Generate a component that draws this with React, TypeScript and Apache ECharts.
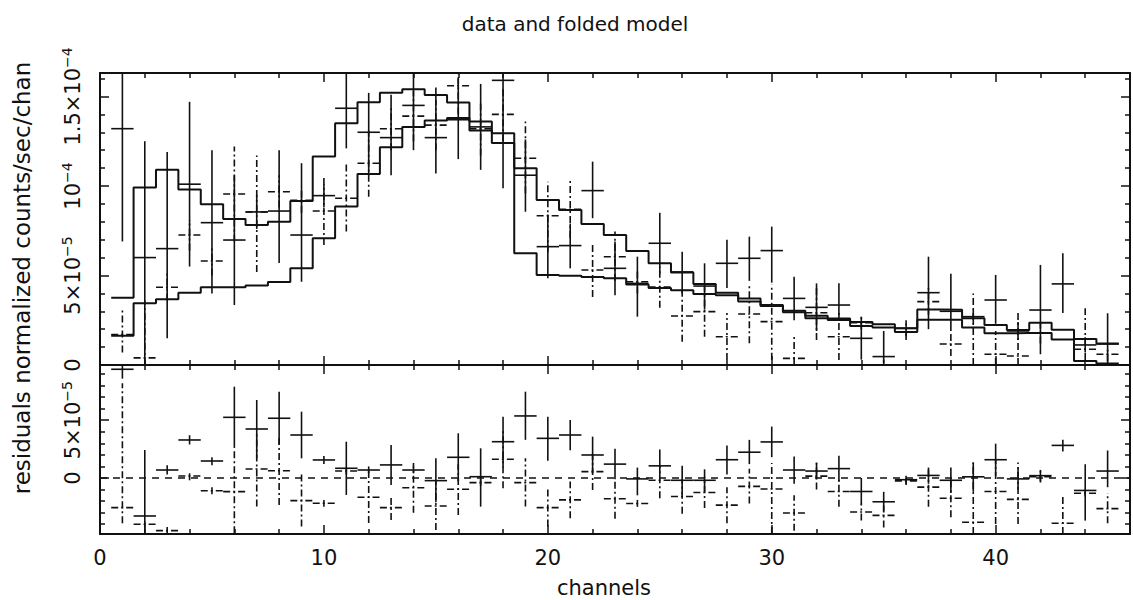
import React, { useEffect, useRef } from "react";
import * as echarts from "echarts";

// values are in units of 1e-5 normalized counts/sec/chan
const UNIT = 1e-5;

const channels = [
  1, 2, 3, 4, 5, 6, 7, 8, 9, 10, 11, 12, 13, 14, 15, 16, 17, 18, 19, 20, 21, 22, 23,
  24, 25, 26, 27, 28, 29, 30, 31, 32, 33, 34, 35, 36, 37, 38, 39, 40, 41, 42, 43, 44, 45,
];

// folded model, first spectrum (broad peak)
const modelUpper = [
  3.76, 9.92, 10.9, 9.8, 8.98, 8.16, 7.82, 8.0, 9.16, 11.64, 13.5, 14.68, 15.21, 15.4, 15.08,
  14.66, 13.6, 12.94, 10.99, 9.22, 8.66, 7.88, 7.26, 6.37, 5.68, 5.16, 4.53, 4.04, 3.72, 3.3,
  3.03, 2.61, 2.51, 2.4, 2.27, 2.05, 3.1, 3.08, 2.61, 2.23, 1.96, 2.36, 1.97, 1.45, 1.2,
];

// folded model, second spectrum (sharp cut at channel 19)
const modelLower = [
  1.64, 3.45, 3.67, 4.04, 4.34, 4.34, 4.44, 4.64, 5.4, 7.08, 8.85, 10.67, 12.16, 13.3, 13.65,
  13.8, 13.1, 12.4, 6.24, 5.03, 4.98, 4.92, 4.85, 4.5, 4.3, 4.17, 3.97, 3.9, 3.55, 3.35,
  2.95, 2.75, 2.6, 2.18, 2.1, 1.84, 2.53, 2.53, 2.1, 1.77, 1.79, 1.79, 1.43, 0.22, 0.08,
];

// data [value, low, high]
const dataUpper: number[][] = [
  [13.2, 6.9, 19.5], [6.0, 0.0, 12.5], [6.5, 1.5, 11.9], [10.1, 5.5, 14.7], [7.95, 4.0, 12.0],
  [6.98, 3.35, 10.6], [8.55, 7.6, 9.5], [8.6, 5.7, 12.0], [7.26, 4.65, 11.27], [9.46, 8.8, 10.1],
  [14.34, 12.1, 16.5], [13.0, 10.6, 15.2], [12.7, 10.6, 15.1], [14.5, 12.0, 16.9], [12.7, 10.7, 15.5],
  [13.7, 11.5, 16.0], [13.3, 10.9, 15.7], [15.9, 9.87, 21.9], [10.6, 8.56, 12.6], [6.61, 4.84, 8.4],
  [6.67, 5.4, 7.9], [9.74, 8.2, 11.36], [5.4, 3.9, 6.9], [4.56, 2.7, 6.05], [6.8, 5.1, 8.5],
  [5.2, 4.0, 6.33], [4.41, 3.1, 5.68], [5.68, 4.3, 7.0], [5.96, 4.7, 7.17], [6.39, 4.6, 7.73],
  [3.72, 2.5, 4.93], [3.22, 1.9, 4.56], [3.35, 2.5, 4.56], [1.49, 0.3, 2.7], [0.47, 0.1, 1.9],
  [2.05, 1.6, 2.5], [4.04, 2.0, 6.05], [3.0, 1.9, 5.1], [2.7, 2.3, 3.1], [3.63, 2.3, 5.03],
  [1.9, 1.4, 2.4], [3.07, 0.6, 5.59], [4.53, 2.9, 6.24], [1.12, 0.7, 1.55], [1.17, 0.1, 2.89],
];

const dataLower: number[][] = [
  [1.7, 0.7, 3.2], [0.4, 0.0, 3.6], [4.34, 3.6, 5.1], [7.26, 6.4, 8.1], [5.81, 5.0, 6.6],
  [9.55, 6.9, 12.2], [8.55, 5.2, 11.7], [9.68, 8.8, 10.6], [9.2, 8.5, 9.9], [8.6, 6.7, 10.5],
  [9.31, 7.45, 11.27], [11.27, 9.4, 13.1], [13.2, 12.0, 14.4], [13.9, 12.5, 15.3], [13.4, 12.0, 14.8],
  [15.6, 14.0, 17.2], [13.2, 11.7, 14.7], [14.0, 12.5, 15.5], [11.55, 9.6, 13.6], [8.34, 6.3, 10.24],
  [8.69, 7.1, 10.3], [5.31, 3.8, 6.8], [6.05, 4.7, 7.45], [4.65, 4.0, 5.3], [4.36, 3.2, 5.5],
  [2.74, 1.3, 4.2], [2.98, 1.58, 4.4], [1.58, 0.28, 2.9], [2.85, 1.21, 4.5], [2.42, 0.3, 4.5],
  [0.37, 0.05, 1.7], [2.92, 1.4, 4.4], [1.58, 0.28, 2.9], [2.36, 2.0, 2.8], [-1.1, -2.5, 0.3],
  [1.84, 1.4, 2.3], [3.54, 2.8, 4.3], [1.17, 0.5, 1.8], [-1.5, -6.7, 4.0], [0.6, -0.8, 1.9],
  [0.5, -1.0, 3.07], [1.8, 1.2, 2.4], [-2.5, -5.0, 0.0], [0.88, 0.28, 3.17], [0.6, 0.2, 1.0],
];

// residuals [value, low, high]
const residUpper: number[][] = [
  [9.41, 8.6, 10.2], [-3.29, -4.76, 2.42], [0.69, 0.3, 1.1], [3.29, 2.9, 3.7], [1.47, 1.1, 1.8],
  [5.25, 2.6, 7.9], [4.24, 1.7, 6.75], [5.17, 2.9, 7.47], [3.72, 1.7, 5.74], [1.56, 1.2, 1.9],
  [0.84, -1.47, 3.14], [0.69, 0.4, 1.0], [1.13, -0.6, 2.86], [0.69, 0.4, 1.0], [-0.23, -2.1, 1.7],
  [1.79, -0.3, 3.87], [0.11, -2.48, 2.57], [3.14, 0.9, 5.31], [5.37, 3.3, 7.47], [3.43, 1.5, 5.31],
  [3.72, 2.4, 5.02], [1.99, 0.4, 3.58], [1.2, -0.1, 2.53], [-0.08, -1.5, 0.9], [1.05, 0.1, 2.47],
  [-0.2, -1.4, 1.05], [-0.2, -1.2, 0.75], [1.58, 0.3, 2.82], [2.23, 1.2, 3.3], [3.12, 1.8, 4.45],
  [0.69, -0.5, 1.85], [0.6, -0.1, 1.34], [0.81, -0.3, 1.93], [-1.17, -2.3, 0.0], [-2.06, -2.9, -1.2],
  [-0.15, -0.5, 0.2], [0.22, -0.5, 0.9], [-0.2, -1.3, 0.9], [0.1, -1.2, 1.34], [1.58, 0.2, 2.97],
  [-0.08, -1.0, 0.9], [0.2, -0.3, 0.7], [2.82, 2.3, 3.3], [-1.08, -3.69, 1.19], [0.6, -0.8, 2.38],
];

const residLower: number[][] = [
  [-2.57, -3.92, 8.2], [-4.01, -4.4, -3.6], [-4.56, -4.85, -4.2], [0.17, -0.2, 0.5], [-1.1, -1.4, -0.8],
  [-1.18, -4.79, 2.4], [0.78, -2.48, 4.0], [0.63, -2.34, 3.6], [-1.96, -4.21, 0.3], [-2.19, -2.5, -1.9],
  [0.61, 0.3, 0.9], [-1.67, -3.9, 0.6], [-2.57, -3.64, -1.5], [-0.84, -3.0, 1.3], [-2.42, -4.5, -0.3],
  [-0.98, -3.2, 1.2], [-0.4, -0.7, -0.1], [1.62, -0.9, 4.1], [-0.4, -2.48, 1.7], [-2.57, -4.21, -0.9],
  [-1.9, -3.49, -0.3], [0.55, -1.04, 2.1], [-1.8, -3.54, -0.1], [-2.21, -2.5, -1.9], [-0.2, -1.76, 1.1],
  [-1.61, -3.1, -0.1], [-1.26, -2.6, 0.1], [-2.35, -3.92, -0.8], [-0.73, -2.21, 0.8], [-0.96, -5.0, 1.3],
  [-3.03, -4.57, -1.5], [0.16, -1.0, 1.3], [-1.17, -2.5, 0.1], [-2.95, -3.69, -2.2], [-3.24, -4.28, -1.9],
  [-0.25, -0.6, 0.1], [-0.79, -2.5, 0.9], [-1.76, -3.39, -0.1], [-3.83, -9.0, 1.34], [-1.17, -3.98, 1.6],
  [-1.85, -3.98, 1.34], [0.1, -0.4, 0.6], [-3.92, -6.4, -1.47], [-1.32, -1.6, -1.0], [-2.65, -3.92, -1.3],
];

// axis ranges and ticks
const xRange = [0, 46];
const topRange = [0, 16.31];
const residRange = [-4.85, 9.78];
const xMajorTicks = [0, 10, 20, 30, 40];
const xMinorTicks = [2, 4, 6, 8, 12, 14, 16, 18, 22, 24, 26, 28, 32, 34, 36, 38, 42, 44, 46];
const topMajorTicks = [0, 5, 10, 15];
const topMinorTicks = [1, 2, 3, 4, 6, 7, 8, 9, 11, 12, 13, 14, 16];
const residMajorTicks = [0, 5];
const residMinorTicks = [-4, -3, -2, -1, 1, 2, 3, 4, 6, 7, 8, 9];

const topTickLabels: Record<number, string> = {
  0: "{n|0}",
  5: "{n|5×10}{s|−5}",
  10: "{n|10}{s|−4}",
  15: "{n|1.5×10}{s|−4}",
};
const residTickLabels: Record<number, string> = {
  0: "{n|0}",
  5: "{n|5×10}{s|−5}",
};

const FONT = "DejaVu Sans";
const INK = "#111";

function axis(
  gridIndex: number,
  position: string,
  range: number[],
  ticks: number[],
  len: number,
  withLine: boolean,
  label?: any
) {
  const vals = ticks.map((t) => (range === xRange ? t : t * UNIT));
  return {
    type: "value",
    gridIndex,
    position,
    min: range === xRange ? range[0] : range[0] * UNIT,
    max: range === xRange ? range[1] : range[1] * UNIT,
    axisLine: { show: withLine, onZero: false, lineStyle: { color: INK, width: 2 } },
    axisTick: {
      show: true,
      inside: true,
      length: len,
      customValues: vals,
      lineStyle: { color: INK, width: 1.5 },
    },
    axisLabel: label ? { show: true, customValues: vals, ...label } : { show: false },
    splitLine: { show: false },
    minorTick: { show: false },
    axisPointer: { show: false },
  };
}

const yLabelStyle = (map: Record<number, string>) => ({
  rotate: 90,
  margin: 14,
  color: INK,
  fontFamily: FONT,
  fontSize: 21,
  formatter: (v: number) => map[Math.round(v / UNIT)] ?? "",
  rich: {
    n: { fontFamily: FONT, fontSize: 21, lineHeight: 26, color: INK },
    s: { fontFamily: FONT, fontSize: 14, lineHeight: 14, verticalAlign: "top", color: INK },
  },
});

function stepLine(model: number[]) {
  const pts: number[][] = [];
  channels.forEach((c, i) => {
    pts.push([c - 0.5, model[i] * UNIT], [c + 0.5, model[i] * UNIT]);
  });
  return {
    type: "line",
    xAxisIndex: 0,
    yAxisIndex: 0,
    data: pts,
    symbol: "none",
    lineStyle: { color: INK, width: 2 },
    silent: true,
  };
}

function crosses(rows: number[][], axisIndex: number, range: number[], dash: number[] | null) {
  const yMin = range[0] * UNIT;
  const yMax = range[1] * UNIT;
  return {
    type: "custom",
    xAxisIndex: axisIndex,
    yAxisIndex: axisIndex,
    silent: true,
    data: rows.map((r, i) => [channels[i], r[0] * UNIT, r[1] * UNIT, r[2] * UNIT]),
    encode: { x: 0, y: 1 },
    renderItem: (_p: any, api: any) => {
      const c = api.value(0);
      const v = api.value(1);
      const lo = api.value(2);
      const hi = api.value(3);
      const st: any = { stroke: INK, lineWidth: 1.6, fill: null };
      if (dash) st.lineDash = dash;
      const kids: any[] = [];
      if (v >= yMin && v <= yMax) {
        const a = api.coord([c - 0.5, v]);
        const b = api.coord([c + 0.5, v]);
        kids.push({ type: "line", shape: { x1: a[0], y1: a[1], x2: b[0], y2: b[1] }, style: st });
      }
      const l = Math.max(lo, yMin);
      const h = Math.min(hi, yMax);
      if (h > l) {
        const a = api.coord([c, l]);
        const b = api.coord([c, h]);
        kids.push({ type: "line", shape: { x1: a[0], y1: a[1], x2: b[0], y2: b[1] }, style: st });
      }
      return { type: "group", children: kids };
    },
  };
}

const DASHDOT = [7, 3, 2, 3];

const option: any = {
  animation: false,
  backgroundColor: "#ffffff",
  grid: [
    { left: 100, top: 73, width: 1030, height: 292 },
    { left: 100, top: 365, width: 1030, height: 169 },
  ],
  xAxis: [
    axis(0, "bottom", xRange, xMajorTicks, 9, true),
    axis(0, "bottom", xRange, xMinorTicks, 5, false),
    axis(0, "top", xRange, xMajorTicks, 9, true),
    axis(0, "top", xRange, xMinorTicks, 5, false),
    axis(1, "bottom", xRange, xMajorTicks, 9, true, {
      margin: 13,
      color: INK,
      fontFamily: FONT,
      fontSize: 21,
      formatter: (v: number) => String(v),
    }),
    axis(1, "bottom", xRange, xMinorTicks, 5, false),
    axis(1, "top", xRange, xMajorTicks, 9, true),
    axis(1, "top", xRange, xMinorTicks, 5, false),
  ],
  yAxis: [
    axis(0, "left", topRange, topMajorTicks, 9, true, yLabelStyle(topTickLabels)),
    axis(0, "left", topRange, topMinorTicks, 5, false),
    axis(0, "right", topRange, topMajorTicks, 9, true),
    axis(0, "right", topRange, topMinorTicks, 5, false),
    axis(1, "left", residRange, residMajorTicks, 9, true, yLabelStyle(residTickLabels)),
    axis(1, "left", residRange, residMinorTicks, 5, false),
    axis(1, "right", residRange, residMajorTicks, 9, true),
    axis(1, "right", residRange, residMinorTicks, 5, false),
  ],
  series: [
    stepLine(modelUpper),
    stepLine(modelLower),
    crosses(dataUpper, 0, topRange, null),
    crosses(dataLower, 0, topRange, DASHDOT),
    {
      ...crosses(residUpper, 4, residRange, null),
      markLine: {
        silent: true,
        symbol: ["none", "none"],
        label: { show: false },
        lineStyle: { color: INK, width: 1.5, type: [7, 6] },
        data: [{ yAxis: 0 }],
      },
    },
    crosses(residLower, 4, residRange, DASHDOT),
  ],
  graphic: [
    {
      type: "text",
      x: 575,
      y: 24,
      style: {
        text: "data and folded model",
        fill: INK,
        fontFamily: FONT,
        fontSize: 20,
        textAlign: "center",
        textVerticalAlign: "middle",
        verticalAlign: "middle",
      },
    },
    {
      type: "text",
      x: 604,
      y: 588,
      style: {
        text: "channels",
        fill: INK,
        fontFamily: FONT,
        fontSize: 21,
        textAlign: "center",
        textVerticalAlign: "middle",
        verticalAlign: "middle",
      },
    },
    {
      type: "text",
      x: 22,
      y: 278,
      rotation: Math.PI / 2,
      style: {
        text: "residuals normalized counts/sec/chan",
        fill: INK,
        fontFamily: FONT,
        fontSize: 23,
        textAlign: "center",
        textVerticalAlign: "middle",
        verticalAlign: "middle",
      },
    },
  ],
};

export default function App() {
  const ref = useRef<HTMLDivElement>(null);
  useEffect(() => {
    document.body.style.margin = "0";
    const chart = echarts.init(ref.current as HTMLDivElement, null, { renderer: "svg" });
    chart.setOption(option);
    return () => chart.dispose();
  }, []);
  return (
    <div
      ref={ref}
      style={{ position: "absolute", left: 0, top: 0, width: 1133, height: 600, background: "#fff" }}
    />
  );
}
